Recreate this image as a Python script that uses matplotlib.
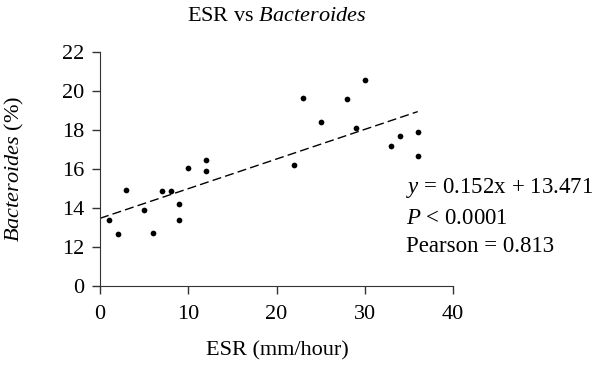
import matplotlib
matplotlib.use("Agg")
import matplotlib.pyplot as plt
import numpy as np

plt.rcParams['font.family'] = ['Liberation Serif', 'DejaVu Serif']
plt.rcParams['mathtext.fontset'] = 'custom'
plt.rcParams['mathtext.rm'] = 'Liberation Serif'
plt.rcParams['mathtext.it'] = 'Liberation Serif:italic'

# data
esr = [1, 2, 3, 5, 6, 7, 8, 9, 9, 10, 12, 12,
       22, 23, 25, 28, 29, 30, 33, 34, 36, 36]
bact = [13.4, 12.65, 14.9, 13.9, 12.72, 14.88, 14.88, 14.18, 13.4, 16.05, 16.44, 15.92,
        16.23, 19.62, 18.43, 19.6, 18.08, 20.58, 17.2, 17.7, 17.88, 16.67]
slope = 0.152
intercept = 13.471
fit_x = [0, 36]
yticks = [0, 12, 14, 16, 18, 20, 22]
xticks = [0, 10, 20, 30, 40]

# broken y axis: 0..12 squeezed into one tick step
def fwd(y):
    y = np.asarray(y, dtype=float)
    return np.where(y < 12, y / 6.0, y - 10.0)

def inv(p):
    p = np.asarray(p, dtype=float)
    return np.where(p < 2, p * 6.0, p + 10.0)

fig = plt.figure(figsize=(6, 3.68), dpi=100)
ax = fig.add_axes([100/600, 1 - 286/368, 353/600, 234/368])
ax.set_yscale('function', functions=(fwd, inv))

ax.scatter(esr, bact, s=17, color='black', linewidths=0, zorder=3)
fx = np.array(fit_x, dtype=float)
ax.plot(fx, slope * fx + intercept, color='black', lw=1, dashes=(6.5, 3))

ax.set_xlim(0, 40)
ax.set_ylim(0, 22)
ax.set_xticks(xticks)
ax.set_yticks(yticks)
ax.tick_params(direction='out', length=5.5, width=1, labelsize=16, color='#333333')
ax.tick_params(axis='x', pad=8)
ax.tick_params(axis='y', pad=6)
for s in ['top', 'right']:
    ax.spines[s].set_visible(False)
for s in ['left', 'bottom']:
    ax.spines[s].set_color('#333333')

fig.text(277/600, 1 - 351/368, 'ESR (mm/hour)', fontsize=16, ha='center', va='center')
fig.text(14/600, 1 - 169/368, r'$\mathit{Bacteroides}$ (%)', fontsize=16,
         ha='center', va='center', rotation=90)
fig.text(277/600, 1 - 21/368, r'ESR vs $\mathit{Bacteroides}$', fontsize=16,
         ha='center', va='baseline')

fig.text(406/600, 1 - 188/368, r'$y$ = 0.152x + 13.471', fontsize=16.5, va='center')
fig.text(406/600, 1 - 218/368, r'$P$ < 0.0001', fontsize=16.5, va='center')
fig.text(406/600, 1 - 247/368, 'Pearson = 0.813', fontsize=16.5, va='center')

fig.savefig('out.png', dpi=100)
